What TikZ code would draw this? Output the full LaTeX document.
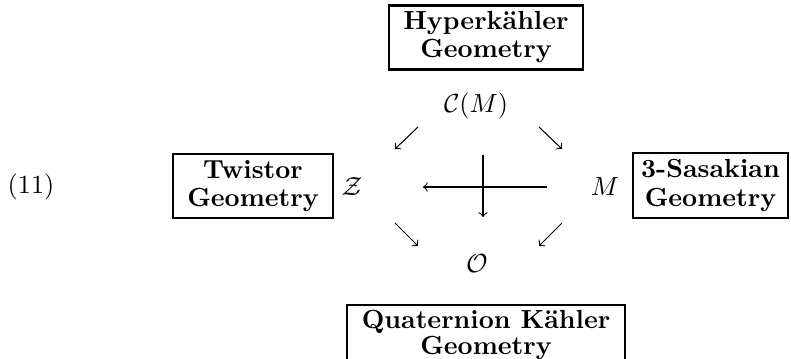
\documentclass[tikz,border=0pt]{standalone}
\usepackage{amsmath}
\tikzset{
  geobox/.style={draw,line width=0.8pt,align=center,inner xsep=5.5pt,inner ysep=2.4pt,
    font=\bfseries\fontsize{10}{10.7}\selectfont},
  mapto/.style={->,line width=0.4pt}
}
\begin{document}
\begin{tikzpicture}[x=0.3817pt,y=-0.3817pt]
  \useasboundingbox (0,0) rectangle (791,358);

  \node (eqno) at (31,193) [anchor=base] {(11)};

  \node[geobox] (hk) at (486,37.5) {Hyperk\"ahler\\Geometry};
  \node[geobox] (tw) at (253,186) {Twistor\\Geometry};
  \node[geobox,inner xsep=3pt] (sas) at (710.5,185.5) {3-Sasakian\\Geometry};
  \node[geobox,anchor=north,inner ysep=2pt,font=\bfseries\fontsize{10}{8.8}\selectfont]
    (qk) at (486,304) {Quaternion K\"ahler\\Geometry};

  \node (CM) at (476,112) [anchor=base] {$\mathcal{C}(M)$};
  \node (Z) at (352,195) [anchor=base] {$\mathcal{Z}$};
  \node (M) at (605,195) [anchor=base] {$M$};
  \node (O) at (477,272) [anchor=base] {$\mathcal{O}$};

  \coordinate (tla) at (418,127); \coordinate (tlb) at (395,149);
  \coordinate (tra) at (539,127); \coordinate (trb) at (562,149);
  \coordinate (bla) at (395,223); \coordinate (blb) at (418,246);
  \coordinate (bra) at (562,223); \coordinate (brb) at (539,246);
  \draw[mapto] (tla) -- (tlb);
  \draw[mapto] (tra) -- (trb);
  \draw[mapto] (bla) -- (blb);
  \draw[mapto] (bra) -- (brb);

  \coordinate (ha) at (547,187); \coordinate (hb) at (423,187);
  \coordinate (va) at (483,155); \coordinate (vb) at (483,217);
  \draw[mapto] (ha) -- (hb);
  \draw[mapto] (va) -- (vb);
\end{tikzpicture}
\end{document}
